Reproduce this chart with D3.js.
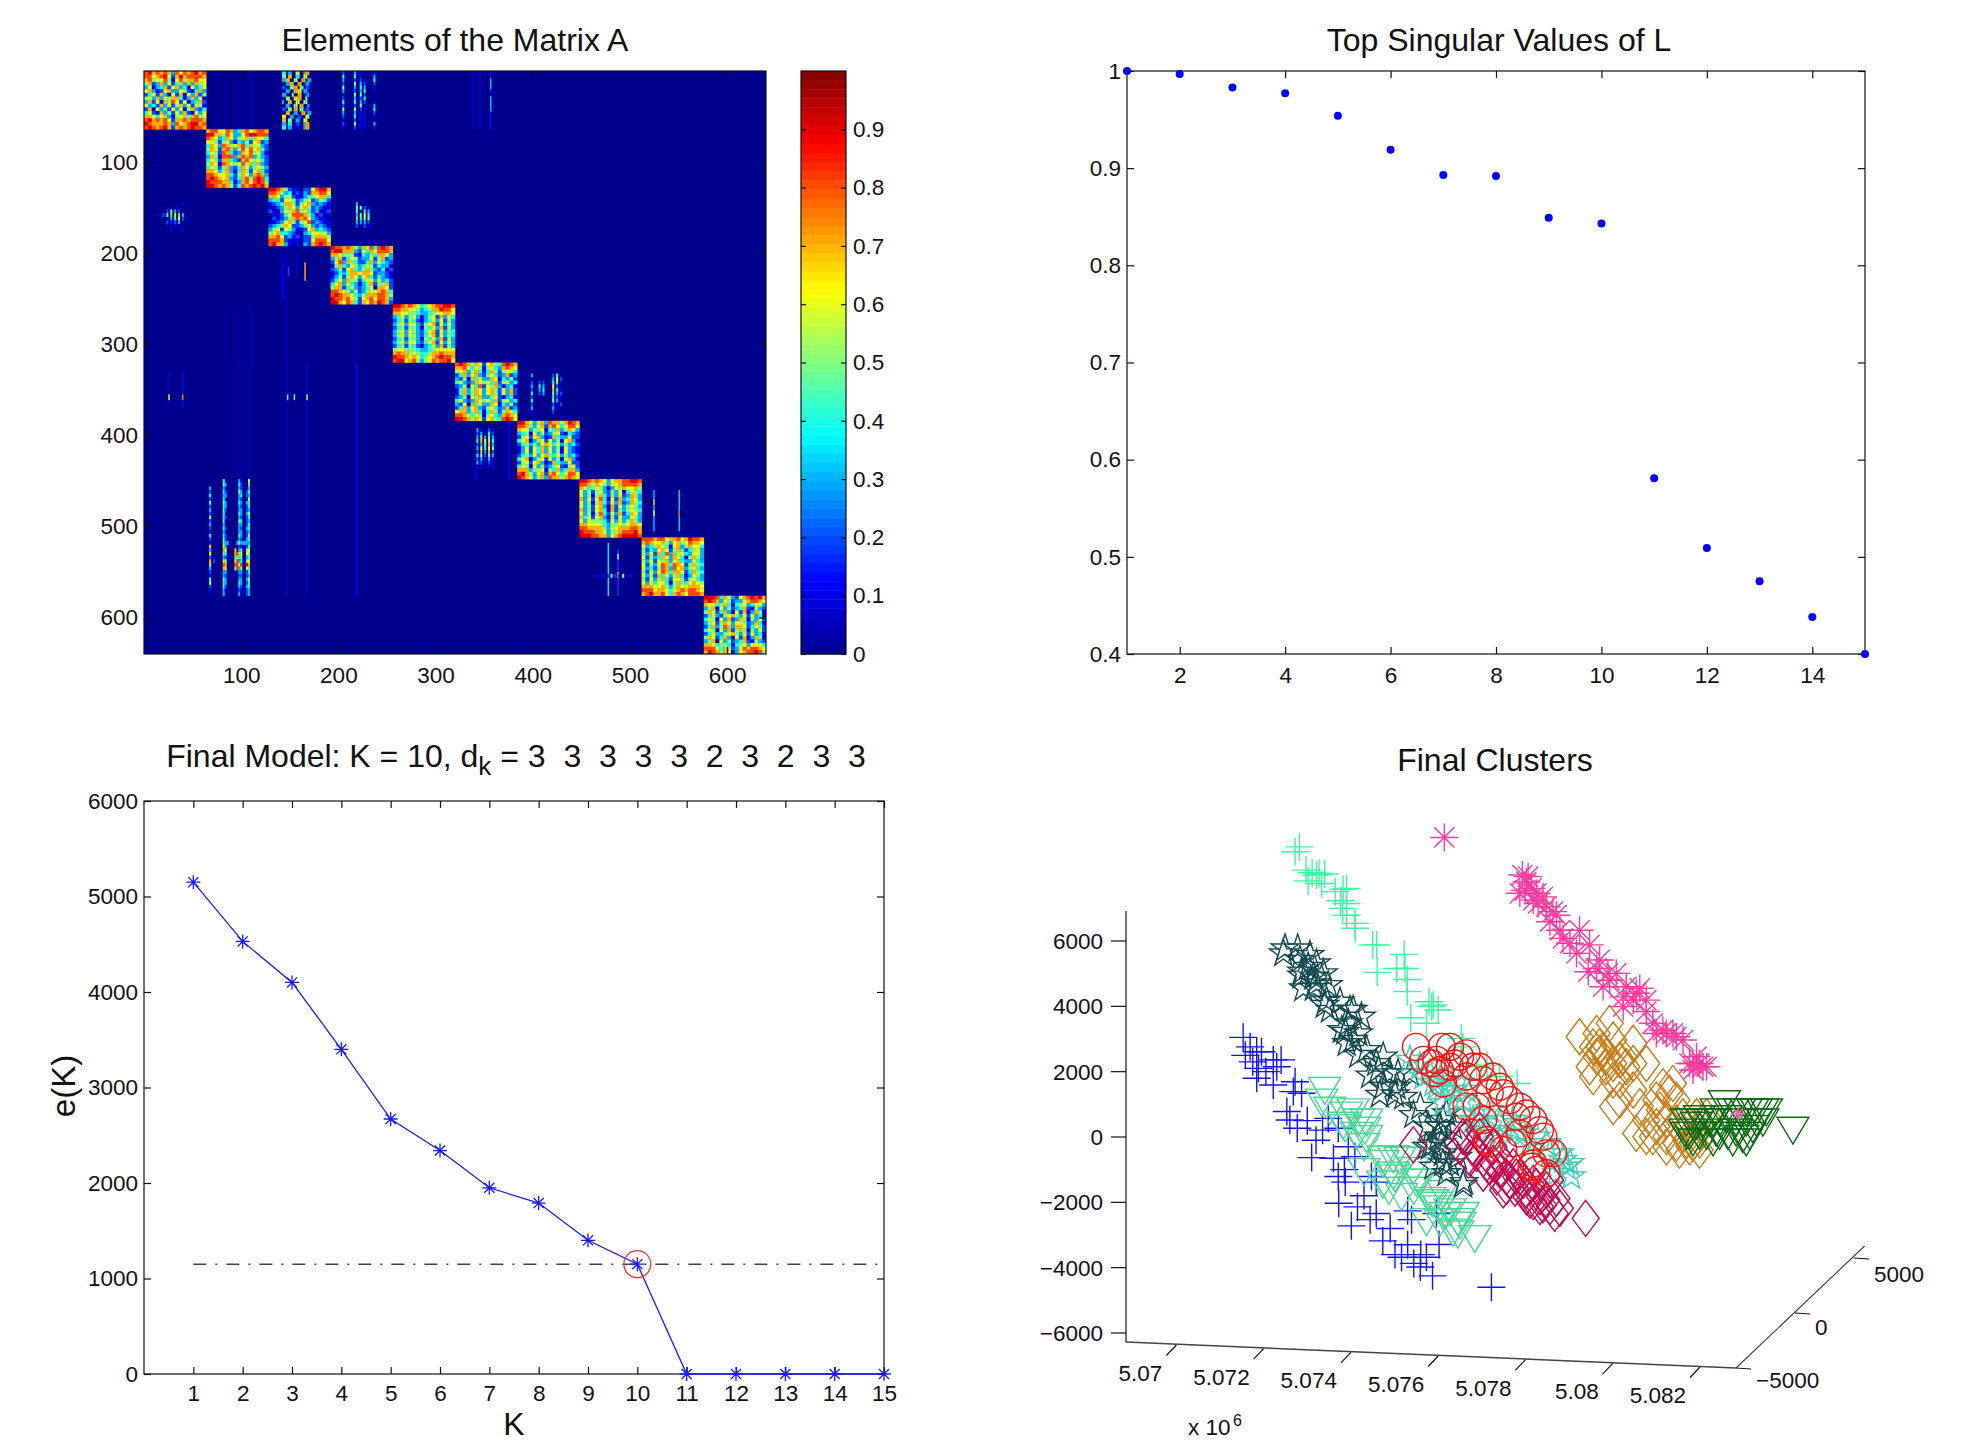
<!DOCTYPE html>
<html>
<head>
<meta charset="utf-8">
<script src="https://cdn.jsdelivr.net/npm/d3@7"></script>
<style>
body { margin: 0; background: #fff; }
svg { display: block; font-family: "Liberation Sans", Arial, sans-serif; fill: #111; }
.ax text { font-size: 22.5px; fill: #111; font-family: "Liberation Sans", Arial, sans-serif; }
.ax line, .ax path { stroke: #111; stroke-width: 1.2; }
.title { font-size: 32px; text-anchor: middle; white-space: pre; }
</style>
</head>
<body>
<script>
// ---- matrix A, read by eye: each diagonal block is 16x16 cells of 4 matrix units, digit = value*10
var blockRows = [
 ["8978787386878978","8867896279788887","7856685168577866","5723736247373756","3613472673416346","6731267336521473","2462731627163725","5637365774137361","3726175862613472","6342736257362651","2716352636157324","4621735263721636","7764673156747856","8978786277878887","9877787386789978","8987897278789887"],
 ["7886687347867887","9977586336899888","8763476356747664","6652563143526723","4763875678475632","5762787358686742","4652874237685631","3751888378783532","4652774327865642","5761876568574732","4652573247635653","7763573147526742","8876674257637873","8987673247858984","9888774137868985","9987875248789897"],
 ["9987521102268997","8875341213277886","7763552113456774","3442665235623542","1234775256732321","1123576367523211","2103657856423012","0112468887531201","0212357878632110","1123675256823211","2345762235632321","3562653112673432","5674432103466563","7786231212257775","8887211102268886","8977310103278987"],
 ["9887875375848987","8997773264768887","7765552143547763","3572465233625723","2683754224736432","1574365346524331","2352674357532412","1243577677623321","1352576367424321","2463755246636342","4673643135725572","5772463234617762","8876535235667874","8987764357778875","9887865267868873","9976874276879872"],
 ["9987876456788998","8877665345779886","7766554334566776","3463563135627364","2452542134636253","3563663256726363","2452553154637253","3563653246726354","3563653246726354","2452553154637253","3563663246726363","2452542134637253","5665554334566666","7877565445778777","9887676456789887","8996785356878896"],
 ["8987576267548987","7786465156437876","5673574147525664","2473673256423723","3251746337614352","4632376564725634","2351648265731341","1473576367526372","1473576367526372","2351657335621341","4632376564725634","3261746337614352","2473673256423723","6773574147525764","8876465156437876","9987576267548986"],
 ["9976357387757987","8875367278646886","7663556154735763","3451635235621432","2562673127433622","4671356263516731","2453536764635342","1362647363516321","1362647363516321","2453636754635342","4671356263516731","2562673127433622","4651635235621562","7773556154734773","8975367278646886","9876357387757876"],
 ["9987876367788998","8875765366788887","7645653136576675","6352563253614654","6351574253623753","7362684162734763","6351574263723754","6352673172635653","7352674172535654","6351584263724763","7462673152633653","6365554263635753","7766664355656776","8877775366777887","9888776355788897","9998877367899998"],
 ["8887886778679887","7876675367568776","6345764167357664","5243676257424563","5362748375643663","6253476376415753","5362657367433643","6253687487625754","6342587386735643","5263687477624754","6352746357413653","5263574266525643","6364664157546765","7776675357667776","8886776467878876","7897786478768887"],
 ["9998476326789897","8987365233678876","7664574145634663","3571635234721532","5762473162713751","2463256753626341","4651637237515362","3562576366523741","2473587377624652","4651637257515362","2463356753626341","5762473162713751","3571635234721532","7764554145636664","8886475236878876","7987576136788985"]
];
// off-diagonal patches: [first row, first column, rows of digits] (cells step 2 across, 4 down)
var patches = [
 [0, 142, ["440330066003770","550770044006600","337700550077033","003377007700330","220055770550220","003300776603300","330005007700230","005500667700500","300770066005500","003300550770030","220550770550220","007700330077033","660033002200660","770550033006600","330440022003770","440330011003770"]],
 [0, 204, ["20000030010000001","40000040010000003","30000020020100004","20000050030200002","50000030040300001","30000020030400001","10000050050200000","20000030020400000","40000040030200001","20000020050100003","50000050020100004","30000030010100002","20000040010100001","10000020010100001","20000050010100003","10000020010100001"]],
 [140, 13, ["0000000000000000","0000000000000100","0000001000100000","0000020503020000","0102040705070300","0000000304060201","0000020102030000","0000000100010000","0000000100000100"]],
 [144, 216, ["0300000000","0505020100","0400040300","0305060400","0704050500","0303030200","0200020100"]],
 [332, 396, ["030000000000204000","000000000000306020","020002020000405010","030004030000602000","020003040000704010","040002030000503020","020000000000402010","040000000000503000","020000000000201020","030000000000301000","010000000000200000"]],
 [392, 340, ["030100020100","020300040200","030503050300","040706050400","020305070300","030604060500","020703070200","040502050300","020301030100","030200020100","010100010100"]],
 [448, 65, ["00000000400000003100050","00000000530000004200070","03000000300000003200030","02000000420000005300240","04000000330000003400230","02000000400000003200050","05000000530000004300340","02000000430000003200240","03000000520000003300230","02000000400000004300350","05000000420000003200240","02000000510000005400230","03000000300000003300240","02000000420000003200340","01000000300000003300230","04000000420000004300250","02000000520000003200340","01000000533000035333330","07000000630000002100240","03000000760000703400560","06000000540000785600650","02000000320000464500340","07020000650000683400560","05000000870000886800970","03000000760000583500640","02000000330000003300240","01000000320000002200230","04000000530000003300350","06000000430000004300240","02000000520000003200340","01000000310000002100230","00000000300000003100230"]],
 [552, 462, ["01010101040201050101"]]
];
// thin stripes: [column, first row, last row, value]
var stripes = [
 [338,0,64,.08],[345,0,64,.08],[356,0,64,.14],[356,8,20,.3],[356,28,44,.3],[98,0,64,.05],[108,0,64,.05],
 [98,256,320,.05],[108,256,320,.05],[146,256,320,.08],[217,256,320,.05],[146,192,256,.06],[140,192,256,.05],
 [165,210,230,.7],[142,205,250,.12],[148,215,225,.2],[156,200,225,.1],
 [25,330,370,.08],[39,330,370,.1],[25,355,361,.6],[39,355,361,.75],
 [147,320,576,.08],[167,320,576,.08],[218,320,576,.13],[98,320,448,.06],[108,320,448,.05],
 [154,355,361,.5],[167,355,361,.55],[147,355,361,.4],[375,384,448,.12],[341,436,448,.12],
 [524,460,505,.3],[550,460,505,.32],[550,482,488,.8],[524,482,488,.6],[524,470,476,.7],
 [477,518,576,.35],[487,525,576,.18],[487,550,556,.7],[487,530,536,.5]
];
var matrixTicks = [100, 200, 300, 400, 500, 600];
var colorTicks = [0, .1, .2, .3, .4, .5, .6, .7, .8, .9];

// ---- singular values
var singularK = d3.range(1, 16);
var singularValues = [1, .997, .983, .977, .954, .919, .893, .892, .849, .843, .581, .509, .475, .438, .4];
var singularXTicks = [2, 4, 6, 8, 10, 12, 14];
var singularYTicks = [.4, .5, .6, .7, .8, .9, 1];

// ---- model error
var modelK = d3.range(1, 16);
var modelErr = [5150, 4530, 4100, 3400, 2670, 2340, 1950, 1790, 1400, 1150, 0, 0, 0, 0, 0];
var errThreshold = 1150;
var chosenK = 10;
var dk = [3, 3, 3, 3, 3, 2, 3, 2, 3, 3];

// ---- clusters, [km above 5.07e6, height read against the vertical axis]
var mintPlus = [[2.82,8880],[2.72,8730],[2.97,8170],[3.11,8090],[3.02,7840],[3.21,8020],[3.27,8070],[3.33,7760],[3.40,8050],[3.64,7510],[3.76,7230],[3.82,7580],[3.90,7610],[3.81,7000],[3.90,7150],[3.90,6790],[4.09,6540],[4.10,6390],[4.50,5880],[4.59,5880],[4.60,5040],[5.22,5590],[5.05,5160],[5.24,5160],[5.29,4820],[5.29,4450],[5.37,3650],[5.79,4140],[5.85,3990],[5.89,4040],[6.00,3890],[5.73,3480],[6.53,3020],[6.57,2760],[7.12,2200],[7.81,1640],[6.88,2150],[7.41,1850]];
var bluePlus = [[1.53,3050],[1.69,2760],[1.84,2610],[1.95,2610],[2.22,2360],[2.40,2360],[1.88,2100],[1.84,1800],[2.22,1590],[2.72,1690],[2.68,1390],[2.87,1340],[2.53,780],[2.60,520],[2.77,270],[3.10,-630],[3.60,-650],[3.35,210],[3.48,570],[3.71,270],[3.94,-300],[4.09,-600],[3.71,-1210],[4.47,-1210],[3.87,-1380],[4.15,-2140],[4.58,-1380],[5.30,-2260],[4.01,-2720],[4.73,-3180],[5.16,-3680],[5.44,-3870],[5.87,-4250],[5.59,-3980],[6.02,-3290],[7.22,-4600],[4.44,-2530],[5.73,-3680],[5.39,-2530],[5.96,-2340],[5.01,-3600],[4.58,-2340],[3.72,-2030],[1.58,2500],[1.75,2300],[2.05,2000],[2.30,2150],[3.20,-100],[3.00,500],[3.85,-1000],[4.30,-1800],[4.90,-2800],[5.30,-3300],[5.60,-3600]];
var darkStar = [[2.49,5770],[2.78,5770],[2.45,5620],[3.06,5570],[2.83,5420],[3.21,5310],[2.87,5060],[3.02,5210],[3.14,4910],[3.37,5010],[2.91,4550],[3.21,4700],[3.48,4650],[3.75,4140],[3.40,4040],[3.52,3890],[3.98,3890],[4.05,3890],[4.24,3680],[3.94,3480],[3.79,3270],[4.17,3170],[4.05,2970],[3.90,2870],[4.36,2660],[4.17,2510],[4.74,2460],[4.63,2050],[4.89,1950],[5.08,1950],[4.74,1540],[5.05,1540],[4.66,1290],[5.20,1230],[5.43,670],[5.77,320],[6.04,320],[6.19,720],[5.81,-300],[6.08,-190],[6.34,320],[6.11,-810],[6.11,520],[6.00,10],[5.73,-300],[6.11,-500],[5.89,-910],[6.27,-810],[6.57,-1470],[6.19,-1110],[5.35,1950],[6.02,340],[6.45,-610],[6.59,-1380],[5.87,-230],[5.59,920],[5.01,1300],[4.44,1880],[3.15,4560],[2.87,4940],[3.44,4170],[3.87,3220],[4.58,2260]];
var seaTri = [[3.40,1490],[3.33,1130],[3.52,880],[3.90,730],[4.17,520],[4.32,270],[4.13,110],[4.36,10],[3.82,420],[4.05,830],[4.36,520],[4.97,-600],[4.74,-750],[5.12,-650],[4.97,-1110],[5.50,-1320],[5.27,-650],[5.58,-1320],[5.96,-2030],[6.27,-2230],[6.50,-2640],[6.84,-3050],[6.11,-1670],[5.81,-1880],[5.43,-960],[6.57,-2340],[6.34,-2850],[6.04,-2540],[4.73,-1380],[5.16,-1760],[6.02,-2140],[6.45,-2530],[4.30,-1000],[4.30,-230],[4.73,-610],[5.01,-1190],[5.44,-1570],[5.87,-1950],[6.16,-2340],[6.45,-2910],[3.87,340],[5.73,-2530],[4.87,-1570]];
var turqStar = [[5.35,2360],[5.66,1850],[5.89,1640],[6.11,1440],[6.34,1440],[6.57,1130],[6.11,1030],[6.95,720],[7.11,210],[7.57,520],[7.80,210],[7.41,-90],[8.10,-190],[8.48,-190],[8.94,-910],[9.05,-1210],[8.79,-500],[8.71,-1110],[6.50,1640],[6.80,520],[5.81,1950],[6.04,1740],[6.27,1740],[6.42,1130],[5.96,1540],[6.65,1440],[6.88,520],[7.41,420],[7.72,520],[7.95,110],[8.25,10],[8.56,-500],[8.86,-700],[9.02,-800],[7.18,830],[5.58,2150]];
var crimsonDia = [[6.65,10],[6.95,10],[6.88,-500],[7.11,-810],[7.34,-1220],[7.56,-1220],[7.76,-1570],[8.02,-1830],[8.18,-1980],[8.40,-2080],[8.71,-1880],[8.33,-2130],[8.67,-2340],[7.41,-650],[7.72,-910],[6.50,-300],[6.73,-650],[7.26,-300],[7.87,-1220],[8.18,-1420],[8.48,-1620],[7.49,-1620],[7.03,-1110],[8.56,-1320],[8.79,-2180],[9.38,-2490],[5.43,-240],[6.95,210],[8.02,-1620],[8.33,-1830],[8.48,-1930],[8.25,-1520],[7.64,-1320],[7.41,-1010],[7.18,-910],[6.80,-300],[6.57,10],[7.79,-1220],[7.95,-1320],[8.10,-1930],[8.56,-2130],[7.26,-810],[7.56,-1520]];
var redCircle = [[5.49,2760],[5.66,2360],[6.08,2760],[6.27,2760],[5.85,2250],[6.04,2050],[6.38,2250],[6.11,1640],[6.80,2150],[7.03,1740],[7.18,1340],[7.64,1130],[7.87,930],[7.41,1540],[7.80,620],[8.18,520],[8.41,10],[8.64,-500],[7.03,520],[7.18,-190],[7.87,110],[8.25,-1010],[8.48,-1110],[6.88,930],[7.72,-190],[7.49,-400],[8.14,-910],[5.96,2360],[6.65,2560],[6.50,2460],[6.27,2150],[5.93,1950],[6.65,1850],[6.95,2150],[7.25,1850],[7.49,1340],[8.02,720],[8.33,210],[8.48,-500],[8.18,-810],[7.11,-90],[6.65,930]];
var orangeDia = [[9.24,3070],[9.63,3170],[9.93,3480],[9.70,2760],[10.01,2970],[9.70,2560],[9.47,2150],[9.85,2150],[10.47,2870],[10.16,2360],[10.01,1740],[10.31,2150],[9.55,1850],[10.77,2250],[10.47,1440],[10.16,1130],[10.01,930],[10.62,930],[11.15,1540],[11.38,1640],[11.46,1130],[11.08,830],[10.54,110],[10.77,10],[11.23,10],[11.61,110],[11.76,-300],[11.99,-400],[11.53,-400],[11.00,320],[11.99,210],[11.61,620],[11.92,620],[9.55,2760],[9.78,2660],[9.63,2460],[9.85,2460],[10.01,2250],[10.24,2460],[10.47,2250],[10.16,1740],[11.00,1130],[11.30,1340],[11.23,520],[11.46,420],[11.69,-90],[11.84,-190],[10.92,10],[11.46,-190],[11.99,-90],[12.15,620],[11.23,-300],[10.77,520]];
var pinkAst = [[6.14,9170],[7.93,8020],[8.02,7810],[7.87,7460],[8.14,7610],[8.40,7350],[8.29,7150],[8.63,6900],[8.56,6590],[8.86,6080],[9.24,6330],[9.47,5880],[9.17,5620],[9.70,5420],[9.44,5060],[9.78,4600],[10.08,5010],[9.93,4800],[10.24,4290],[10.54,4400],[10.77,4190],[10.77,3840],[10.24,3990],[11.15,3270],[11.00,3170],[11.46,3070],[11.84,2250],[11.99,2250],[12.15,2150],[11.84,2050],[7.99,7550],[8.25,7460],[8.48,7050],[8.71,6790],[8.79,6330],[9.02,5930],[9.63,5160],[9.89,5010],[10.31,4600],[10.47,4190],[10.62,4550],[10.92,3480],[11.23,3170],[11.61,2970],[11.92,2460],[11.76,2250],[12.07,2150],[11.38,3170],[8.06,7970],[8.18,7250]];
var greenTri = [[12.56,1080],[13.29,830],[13.52,830],[13.44,520],[12.37,830],[12.22,520],[12.07,520],[11.69,520],[11.65,210],[11.99,110],[12.37,210],[12.64,110],[12.98,10],[13.06,-90],[12.83,520],[13.21,320],[12.75,830],[12.30,-90],[14.13,270],[11.84,-90],[11.76,110],[11.92,420],[12.15,110],[12.45,520],[12.60,620],[12.83,210],[13.06,520],[13.29,520],[13.14,110],[12.45,110],[12.30,520],[11.99,620],[12.91,830],[13.06,830],[13.21,830],[12.75,-90],[13.44,830],[11.80,520],[11.69,110]];
var pinkInGreen = [[12.87,720]];
var eastTicks = [0, 2, 4, 6, 8, 10, 12];
var eastLabels = ["5.07", "5.072", "5.074", "5.076", "5.078", "5.08", "5.082"];
var northTicks = [-5000, 0, 5000];
var heightTicks = [6000, 4000, 2000, 0, -2000, -4000, -6000];

var svg = d3.select("body").append("svg").attr("width", 1962).attr("height", 1441);

var jet = d3.scaleLinear()
    .domain([0, .125, .375, .625, .875, 1])
    .range(["#00008f", "#0000ff", "#00ffff", "#ffff00", "#ff0000", "#800000"])
    .clamp(true);

function minus(s) { return String(s).replace("-", "\u2212"); }

// inward ticks on all four sides
function boxAxes(g, x, y, xTicks, yTicks, xPad, yPad, yFmt, xFmt) {
    var x0 = x.range()[0], x1 = x.range()[1], y0 = y.range()[0], y1 = y.range()[1];
    g.append("rect").attr("x", x0).attr("y", y1).attr("width", x1 - x0).attr("height", y0 - y1)
        .attr("fill", "none").attr("stroke", "#111").attr("stroke-width", 1.2);
    g.append("g").attr("class", "ax").attr("transform", "translate(0," + y0 + ")")
        .call(d3.axisBottom(x).tickValues(xTicks).tickSize(-7).tickPadding(xPad).tickFormat(xFmt || d3.format("d")));
    g.append("g").attr("class", "ax").attr("transform", "translate(0," + y1 + ")")
        .call(d3.axisTop(x).tickValues(xTicks).tickSize(-7).tickFormat(""));
    g.append("g").attr("class", "ax").attr("transform", "translate(" + x0 + ",0)")
        .call(d3.axisLeft(y).tickValues(yTicks).tickSize(-7).tickPadding(yPad).tickFormat(yFmt || d3.format("d")));
    g.append("g").attr("class", "ax").attr("transform", "translate(" + x1 + ",0)")
        .call(d3.axisRight(y).tickValues(yTicks).tickSize(-7).tickFormat(""));
    g.selectAll(".ax .domain").remove();
}

// PANEL 1 - matrix
var mx = d3.scaleLinear().domain([0, 640]).range([144, 766]);
var myDown = d3.scaleLinear().domain([0, 640]).range([71, 654]);

var cells = [];
blockRows.forEach(function(rows, b) {
    rows.forEach(function(r, i) {
        r.split("").forEach(function(ch, j) {
            cells.push({ r: b * 64 + i * 4, c: b * 64 + j * 4, w: 4, h: 4, v: +ch / 10 });
        });
    });
});
patches.forEach(function(p) {
    p[2].forEach(function(r, i) {
        r.split("").forEach(function(ch, j) {
            if (ch !== "0") cells.push({ r: p[0] + i * 4, c: p[1] + j * 2, w: 1.8, h: 4, v: +ch / 10 });
        });
    });
});
var stripeCells = stripes.map(function(s) {
    return { r: s[1], c: s[0], w: 1.2, h: s[2] - s[1], v: s[3] };
});

var defs = svg.append("defs");
defs.append("clipPath").attr("id", "mclip").append("rect")
    .attr("x", mx(0)).attr("y", myDown(0)).attr("width", mx(640) - mx(0)).attr("height", myDown(640) - myDown(0));
defs.append("filter").attr("id", "soft").attr("x", "-2%").attr("y", "-2%").attr("width", "104%").attr("height", "104%")
    .append("feGaussianBlur").attr("stdDeviation", 0.65);

var p1 = svg.append("g");
var mClip = p1.append("g").attr("clip-path", "url(#mclip)");
var mGroup = mClip.append("g").attr("filter", "url(#soft)");
mGroup.append("rect").attr("x", mx(0) - 8).attr("y", myDown(0) - 8)
    .attr("width", mx(640) - mx(0) + 16).attr("height", myDown(640) - myDown(0) + 16)
    .attr("fill", jet(0));
mGroup.selectAll("rect.cell").data(stripeCells.concat(cells)).enter().append("rect")
    .attr("class", "cell")
    .attr("x", function(d) { return mx(d.c); })
    .attr("y", function(d) { return myDown(d.r); })
    .attr("width", function(d) { return mx(d.c + d.w) - mx(d.c) + .3; })
    .attr("height", function(d) { return myDown(d.r + d.h) - myDown(d.r) + .3; })
    .attr("fill", function(d) { return jet(d.v); });
boxAxes(p1, mx, d3.scaleLinear().domain([640, 0]).range([654, 71]), matrixTicks, matrixTicks, 13, 6);

// colorbar
var cy = d3.scaleLinear().domain([0, 1]).range([654, 71]);
var cg = svg.append("g");
cg.selectAll("rect").data(d3.range(64)).enter().append("rect")
    .attr("x", 801).attr("width", 45)
    .attr("y", function(i) { return cy((i + 1) / 64); })
    .attr("height", function(i) { return cy(i / 64) - cy((i + 1) / 64) + .4; })
    .attr("fill", function(i) { return jet((i + .5) / 64); });
cg.append("rect").attr("x", 801).attr("y", 71).attr("width", 45).attr("height", 583)
    .attr("fill", "none").attr("stroke", "#111").attr("stroke-width", 1.2);
cg.append("g").attr("class", "ax").attr("transform", "translate(846,0)")
    .call(d3.axisRight(cy).tickValues(colorTicks).tickSize(-5).tickPadding(7).tickFormat(function(d) { return d === 0 ? "0" : d3.format(".1f")(d); }));
cg.append("g").attr("class", "ax").attr("transform", "translate(801,0)")
    .call(d3.axisLeft(cy).tickValues(colorTicks).tickSize(-5).tickFormat(""));
cg.selectAll(".ax .domain").remove();

svg.append("text").attr("class", "title").attr("x", 455).attr("y", 51).text("Elements of the Matrix A");

// PANEL 2 - singular values
var sx = d3.scaleLinear().domain([1, 15]).range([1127, 1865]);
var sy = d3.scaleLinear().domain([.4, 1]).range([654, 71]);
var p2 = svg.append("g");
boxAxes(p2, sx, sy, singularXTicks, singularYTicks, 13, 6, function(d) { return d === 1 ? "1" : d3.format(".1f")(d); });
p2.selectAll("circle").data(singularValues).enter().append("circle")
    .attr("cx", function(d, i) { return sx(singularK[i]); })
    .attr("cy", function(d) { return sy(d); })
    .attr("r", 4).attr("fill", "#0000ff");
svg.append("text").attr("class", "title").attr("x", 1499).attr("y", 51).text("Top Singular Values of L");

// PANEL 3 - model error
var ex = d3.scaleLinear().domain([0, 15]).range([144, 884]);
var ey = d3.scaleLinear().domain([0, 6000]).range([1374, 801]);
var p3 = svg.append("g");
boxAxes(p3, ex, ey, modelK, d3.range(0, 6001, 1000), 11, 6);
p3.append("path")
    .attr("d", "M" + ex(1) + "," + ey(errThreshold) + "H" + ex(15))
    .attr("fill", "none").attr("stroke", "#444").attr("stroke-width", 1.4).attr("stroke-dasharray", "13,9,2,9");
var errLine = d3.line().x(function(d, i) { return ex(modelK[i]); }).y(function(d) { return ey(d); });
p3.append("path").datum(modelErr).attr("d", errLine)
    .attr("fill", "none").attr("stroke", "#1a1aff").attr("stroke-width", 1.3);

function asteriskPath(r) {
    var q = r * .72;
    return "M" + (-r) + ",0H" + r + "M0," + (-r) + "V" + r +
        "M" + (-q) + "," + (-q) + "L" + q + "," + q + "M" + (-q) + "," + q + "L" + q + "," + (-q);
}
p3.selectAll("path.ast").data(modelErr).enter().append("path")
    .attr("class", "ast")
    .attr("transform", function(d, i) { return "translate(" + ex(modelK[i]) + "," + ey(d) + ")"; })
    .attr("d", asteriskPath(7)).attr("fill", "none").attr("stroke", "#1a1aff").attr("stroke-width", 1.3);
p3.append("circle").attr("cx", ex(chosenK)).attr("cy", ey(modelErr[chosenK - 1])).attr("r", 13.5)
    .attr("fill", "none").attr("stroke", "#ff3030").attr("stroke-width", 1.3);

var t3 = svg.append("text").attr("class", "title").attr("x", 516).attr("y", 767);
t3.append("tspan").text("Final Model: K = " + dk.length + ", d");
t3.append("tspan").attr("dy", 8).style("font-size", "26px").text("k");
t3.append("tspan").attr("dy", -8).text(" = " + dk.join("  "));
svg.append("text").attr("x", 514).attr("y", 1435).attr("text-anchor", "middle").style("font-size", "32px").text("K");
svg.append("text").attr("transform", "translate(75,1086) rotate(-90)").attr("text-anchor", "middle").style("font-size", "33px").text("e(K)");

// PANEL 4 - clusters
var qx = d3.scaleLinear().domain([0, 12]).range([1176.4, 1700]);   // km above 5.07e6 along the front edge
var qxDrop = d3.scaleLinear().domain([0, 12]).range([1345, 1367]);
var qz = d3.scaleLinear().domain([-6000, 6000]).range([1333, 941]);
var qnx = d3.scaleLinear().domain([-5000, 5000]).range([1736, 1854]);
var qny = d3.scaleLinear().domain([-5000, 5000]).range([1368, 1258]);
var qnLabel = d3.scaleLinear().domain([-5000, 5000]).range([12, 16]);
var p4 = svg.append("g");
var axisStroke = "#444";

p4.append("line").attr("x1", 1126).attr("x2", 1126).attr("y1", 911).attr("y2", 1342).attr("stroke", axisStroke).attr("stroke-width", 1.5);
p4.append("line").attr("x1", 1126).attr("y1", 1342).attr("x2", 1736).attr("y2", 1368).attr("stroke", axisStroke).attr("stroke-width", 1.5);
p4.append("line").attr("x1", 1736).attr("y1", 1368).attr("x2", 1864.6).attr("y2", 1246).attr("stroke", axisStroke).attr("stroke-width", 1.2);

var zT = p4.selectAll("g.zt").data(heightTicks).enter().append("g").attr("class", "zt ax");
zT.append("line").attr("x1", 1111).attr("x2", 1126).attr("y1", function(d) { return qz(d); }).attr("y2", function(d) { return qz(d); });
zT.append("text").attr("x", 1103).attr("y", function(d) { return qz(d); }).attr("dy", ".36em").attr("text-anchor", "end").text(minus);

var eT = p4.selectAll("g.et").data(eastTicks).enter().append("g").attr("class", "et ax");
eT.append("line")
    .attr("x1", function(d) { return qx(d); }).attr("y1", function(d) { return qxDrop(d); })
    .attr("x2", function(d) { return qx(d) - 10; }).attr("y2", function(d) { return qxDrop(d) + 10.5; });
eT.append("text")
    .attr("x", function(d) { return qx(d) - 14; }).attr("y", function(d) { return qxDrop(d) + 28; })
    .attr("dy", ".36em").attr("text-anchor", "end")
    .text(function(d, i) { return eastLabels[i]; });

var nT = p4.selectAll("g.nt").data(northTicks).enter().append("g").attr("class", "nt ax");
nT.append("line")
    .attr("x1", function(d) { return qnx(d); }).attr("y1", function(d) { return qny(d); })
    .attr("x2", function(d) { return qnx(d) + 15; }).attr("y2", function(d) { return qny(d) + 1; });
nT.append("text")
    .attr("x", function(d) { return qnx(d) + 20; }).attr("y", function(d) { return qny(d) + qnLabel(d); })
    .attr("dy", ".36em").text(minus);

p4.append("text").attr("x", 1188).attr("y", 1435).style("font-size", "22.5px").text("x 10");
p4.append("text").attr("x", 1233).attr("y", 1426).style("font-size", "16px").text("6");

function plusPath(r) { return "M" + (-r) + ",0H" + r + "M0," + (-r) + "V" + r; }
function triPath() { return "M-16,-11H16L0,16Z"; }
function diaPath() { return "M0,-18L13.5,0L0,18L-13.5,0Z"; }
function circlePath() { return d3.arc()({ innerRadius: 13.5, outerRadius: 13.5, startAngle: 0, endAngle: 2 * Math.PI }); }
function starPath() {
    var pts = d3.range(10).map(function(i) {
        var a = -Math.PI / 2 + i * Math.PI / 5, r = i % 2 ? 5.6 : 14.5;
        return [r * Math.cos(a), r * Math.sin(a)];
    });
    return d3.line()(pts) + "Z";
}
function drawCluster(pts, shape, colour) {
    p4.append("g").selectAll("path").data(pts).enter().append("path")
        .attr("transform", function(d) { return "translate(" + qx(d[0]) + "," + qz(d[1]) + ")"; })
        .attr("d", shape).attr("fill", "none").attr("stroke", colour).attr("stroke-width", 1.4);
}
drawCluster(mintPlus, plusPath(14), "#3cf8a0");
drawCluster(bluePlus, plusPath(14), "#1212ff");
drawCluster(seaTri, triPath(), "#46d794");
drawCluster(darkStar, starPath(), "#124a50");
drawCluster(turqStar, starPath(), "#3fcfb2");
drawCluster(crimsonDia, diaPath(), "#c4064f");
drawCluster(redCircle, circlePath(), "#ff1010");
drawCluster(orangeDia, diaPath(), "#c97a14");
drawCluster(pinkAst, asteriskPath(14), "#ff3a9e");
drawCluster(greenTri, triPath(), "#0a6a10");
drawCluster(pinkInGreen, asteriskPath(7), "#ff66b8");

svg.append("text").attr("class", "title").attr("x", 1495).attr("y", 771).text("Final Clusters");
</script>
</body>
</html>
